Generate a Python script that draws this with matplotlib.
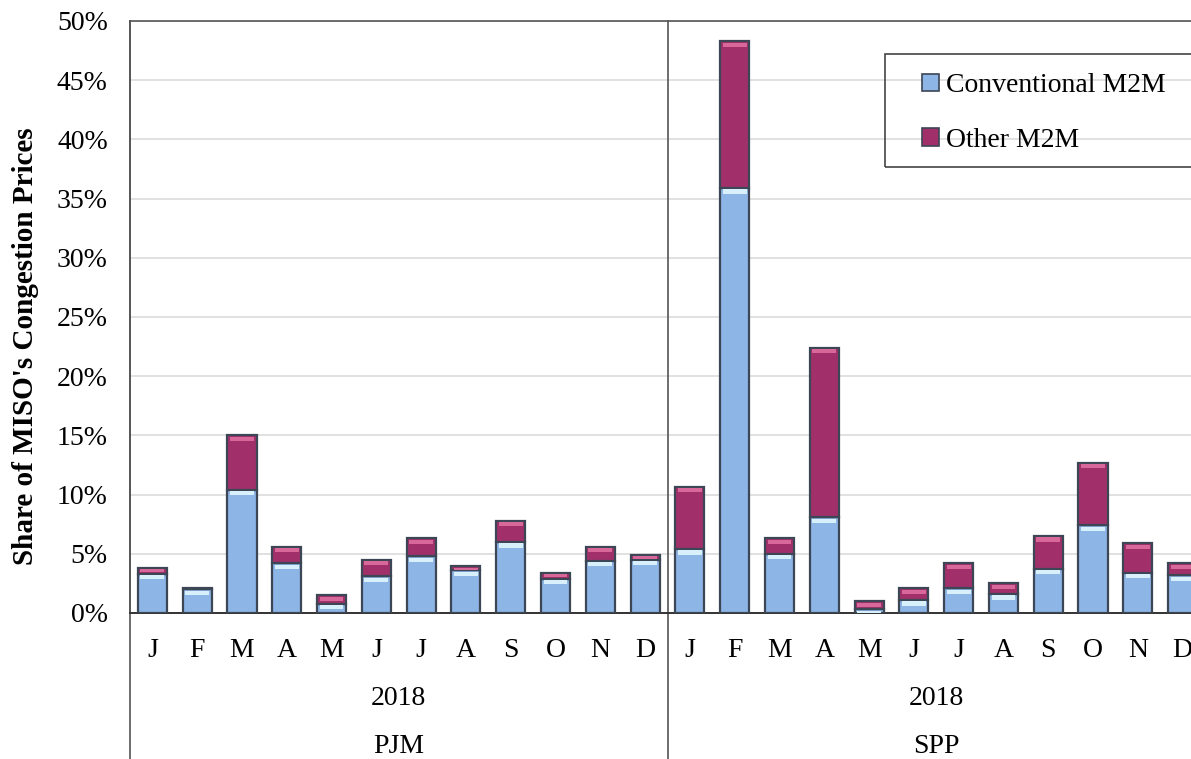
import matplotlib
matplotlib.use("Agg")
import matplotlib.pyplot as plt
import numpy as np
from matplotlib.patches import Rectangle, Patch
from matplotlib.ticker import FuncFormatter, MultipleLocator

months = ["J", "F", "M", "A", "M", "J", "J", "A", "S", "O", "N", "D"]
groups = ["PJM", "SPP"]
year_label = "2018"

pjm_conventional = [3.3, 2.0, 10.4, 4.2, 0.8, 3.1, 4.8, 3.6, 6.0, 2.9, 4.4, 4.5]
pjm_other = [0.5, 0.1, 4.6, 1.4, 0.7, 1.4, 1.5, 0.35, 1.8, 0.5, 1.2, 0.4]
spp_conventional = [5.4, 35.9, 5.0, 8.1, 0.3, 1.1, 2.1, 1.6, 3.75, 7.4, 3.4, 3.2]
spp_other = [5.25, 12.4, 1.3, 14.3, 0.7, 1.0, 2.1, 0.9, 2.75, 5.3, 2.5, 1.0]

conventional = np.array(pjm_conventional + spp_conventional)
other = np.array(pjm_other + spp_other)
labels = months + months

plt.rcParams['font.family'] = ['Liberation Serif', 'DejaVu Serif']

W, H = 1191, 759
fig = plt.figure(figsize=(W / 100, H / 100), dpi=100)
left_px, right_px, top_px, base_px = 130, 1205, 21, 613
ax = fig.add_axes([left_px / W, (H - base_px) / H, (right_px - left_px) / W, (base_px - top_px) / H])

blue = '#8db5e6'
blue_hi = '#d8f0fb'
maroon = '#a1306a'
maroon_hi = '#d8679a'
edge = '#3c4655'

x = np.arange(len(conventional))
bw = 0.65
hi = 0.35  # highlight band thickness in % units (styling)

ax.bar(x, conventional, bw, color=blue, edgecolor=edge, linewidth=1.6, zorder=3)
ax.bar(x, other, bw, bottom=conventional, color=maroon, edgecolor=edge, linewidth=1.6, zorder=3)
# bevel highlights
ax.bar(x, np.minimum(hi, conventional * 0.5), bw * 0.82,
       bottom=conventional - np.minimum(hi, conventional * 0.5) - 0.12,
       color=blue_hi, linewidth=0, zorder=4)
ax.bar(x, np.minimum(hi, other * 0.5), bw * 0.82,
       bottom=conventional + other - np.minimum(hi, other * 0.5) - 0.12,
       color=maroon_hi, linewidth=0, zorder=4)

ax.set_xlim(-0.5, len(x) - 0.5)
ax.set_ylim(0, 50)
ax.yaxis.set_major_locator(MultipleLocator(5))
ax.yaxis.set_major_formatter(FuncFormatter(lambda v, p: f"{int(round(v))}%"))
ax.grid(axis='y', color='#dcdcdc', linewidth=1.2, zorder=0)
ax.set_axisbelow(True)

ax.set_xticks(x)
ax.set_xticklabels(labels, fontsize=20)
ax.tick_params(axis='x', length=0, pad=18)
ax.tick_params(axis='y', length=0, pad=16, labelsize=20)

for s in ['right']:
    ax.spines[s].set_visible(False)
for s in ['left', 'top']:
    ax.spines[s].set_color('#555555')
    ax.spines[s].set_linewidth(1.2)
ax.spines['bottom'].set_color('#333333')
ax.spines['bottom'].set_linewidth(1.4)

# extended separators below axis
ax.axvline(-0.5, ymin=-0.3, ymax=1, color='#555555', linewidth=1.2, clip_on=False)
ax.axvline(11.5, ymin=-0.3, ymax=1, color='#555555', linewidth=1.2, clip_on=False)

trans = ax.get_xaxis_transform()
for i, g in enumerate(groups):
    cx = i * 12 + 5.5
    ax.text(cx, -0.145, year_label, transform=trans, ha='center', va='center', fontsize=20)
    ax.text(cx, -0.226, g, transform=trans, ha='center', va='center', fontsize=20)

fig.text(26 / W, 1 - 346 / H, "Share of MISO's Congestion Prices", rotation=90,
         ha='center', va='center', fontsize=21, fontweight='bold')

# legend
handles = [Patch(facecolor=blue, edgecolor=edge, linewidth=1.2),
           Patch(facecolor=maroon, edgecolor=edge, linewidth=1.2)]
leg = fig.legend(handles, ["Conventional M2M", "Other M2M"], loc='upper left',
                 bbox_to_anchor=(911 / W, 1 - 62 / H), frameon=False, fontsize=20,
                 handlelength=0.6, handleheight=0.6, handletextpad=0.25, labelspacing=1.07,
                 borderaxespad=0)
fig.patches.append(Rectangle((885 / W, 1 - 167 / H), 330 / W, 113 / H, transform=fig.transFigure,
                             fill=False, edgecolor='#444444', linewidth=1.2))

fig.savefig("out.png", dpi=100)
